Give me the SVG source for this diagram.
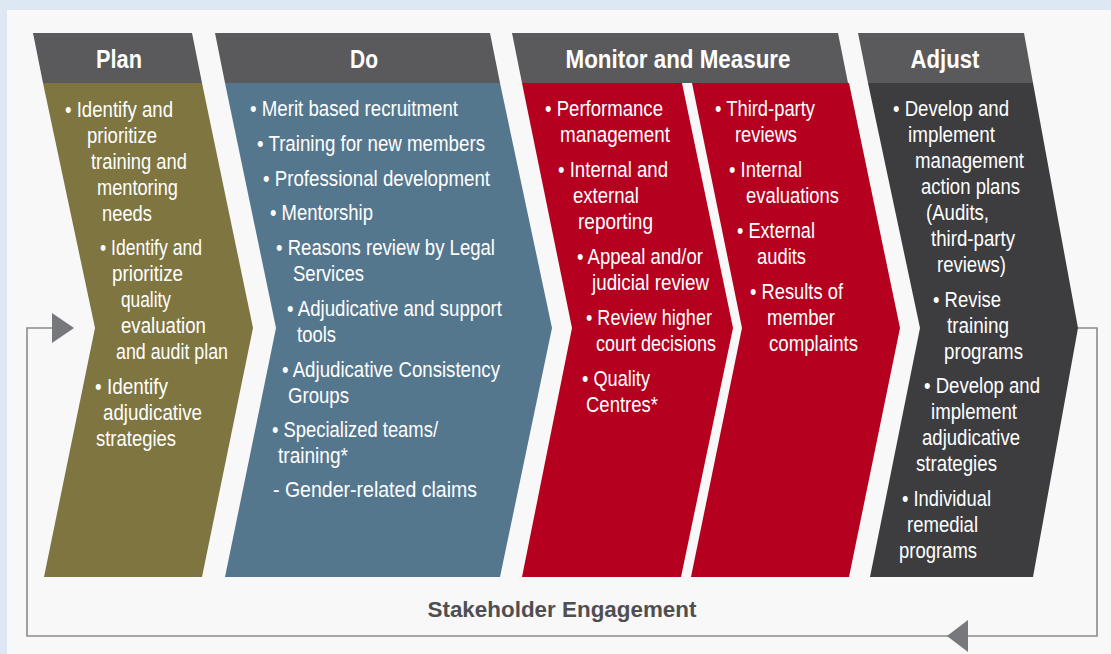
<svg xmlns="http://www.w3.org/2000/svg" width="1111" height="654" viewBox="0 0 1111 654">
<style>
.hdr{fill:#5a5a5c}
.t{font-family:"Liberation Sans",Arial,sans-serif;font-size:22px;fill:#ffffff}
.h{font-family:"Liberation Sans",Arial,sans-serif;font-size:25px;font-weight:bold;fill:#ffffff;text-anchor:middle}
.loop{fill:none;stroke:#8a8a8c;stroke-width:1.6}
.arr{fill:#77787b}
</style>
<rect x="0" y="0" width="1111" height="654" fill="#dde8f4"/>
<rect x="7" y="10" width="1104" height="644" fill="#f8f8f8"/>

<g id="connectors">
<path class="loop" d="M1078,328 H1097 V636 H27 V328 H55"/>
<polygon class="arr" points="52,313 74,328 52,343"/>
<polygon class="arr" points="968,620 947,636 968,652"/>
<text x="562" y="617" text-anchor="middle" font-family="Liberation Sans, Arial, sans-serif" font-size="22" font-weight="bold" fill="#4f4f51" textLength="269" lengthAdjust="spacingAndGlyphs">Stakeholder Engagement</text>
</g>

<g id="plan">
<polygon class="hdr" points="33,33 192,33 202,83 43,83"/>
<polygon fill="#7e7540" points="43,83 202,83 253,328 202,577 44,577 95,328"/>
<text class="h" x="119" y="68" textLength="46" lengthAdjust="spacingAndGlyphs">Plan</text>
<text class="t" x="65" y="117" textLength="108" lengthAdjust="spacingAndGlyphs">• Identify and</text>
<text class="t" x="87" y="143" textLength="70" lengthAdjust="spacingAndGlyphs">prioritize</text>
<text class="t" x="91" y="169" textLength="96" lengthAdjust="spacingAndGlyphs">training and</text>
<text class="t" x="97" y="195" textLength="81" lengthAdjust="spacingAndGlyphs">mentoring</text>
<text class="t" x="102" y="221" textLength="50" lengthAdjust="spacingAndGlyphs">needs</text>
<text class="t" x="100" y="255" textLength="102" lengthAdjust="spacingAndGlyphs">• Identify and</text>
<text class="t" x="112" y="281" textLength="71" lengthAdjust="spacingAndGlyphs">prioritize</text>
<text class="t" x="121" y="307" textLength="50" lengthAdjust="spacingAndGlyphs">quality</text>
<text class="t" x="121" y="333" textLength="85" lengthAdjust="spacingAndGlyphs">evaluation</text>
<text class="t" x="116" y="359" textLength="112" lengthAdjust="spacingAndGlyphs">and audit plan</text>
<text class="t" x="95" y="394" textLength="73" lengthAdjust="spacingAndGlyphs">• Identify</text>
<text class="t" x="103" y="420" textLength="99" lengthAdjust="spacingAndGlyphs">adjudicative</text>
<text class="t" x="96" y="446" textLength="80" lengthAdjust="spacingAndGlyphs">strategies</text>
</g>

<g id="do">
<polygon class="hdr" points="215,33 490,33 500,83 225,83"/>
<polygon fill="#55778e" points="225,83 500,83 552,328 500,577 225,577 276,328"/>
<text class="h" x="364" y="68" textLength="28" lengthAdjust="spacingAndGlyphs">Do</text>
<text class="t" x="250" y="116" textLength="208" lengthAdjust="spacingAndGlyphs">• Merit based recruitment</text>
<text class="t" x="257" y="151" textLength="228" lengthAdjust="spacingAndGlyphs">• Training for new members</text>
<text class="t" x="263" y="186" textLength="227" lengthAdjust="spacingAndGlyphs">• Professional development</text>
<text class="t" x="270" y="220" textLength="103" lengthAdjust="spacingAndGlyphs">• Mentorship</text>
<text class="t" x="276" y="255" textLength="219" lengthAdjust="spacingAndGlyphs">• Reasons review by Legal</text>
<text class="t" x="293" y="281" textLength="71" lengthAdjust="spacingAndGlyphs">Services</text>
<text class="t" x="287" y="316" textLength="215" lengthAdjust="spacingAndGlyphs">• Adjudicative and support</text>
<text class="t" x="297" y="342" textLength="39" lengthAdjust="spacingAndGlyphs">tools</text>
<text class="t" x="282" y="377" textLength="218" lengthAdjust="spacingAndGlyphs">• Adjudicative Consistency</text>
<text class="t" x="288" y="403" textLength="61" lengthAdjust="spacingAndGlyphs">Groups</text>
<text class="t" x="272" y="437" textLength="166" lengthAdjust="spacingAndGlyphs">• Specialized teams/</text>
<text class="t" x="278" y="463" textLength="70" lengthAdjust="spacingAndGlyphs">training*</text>
<text class="t" x="273" y="497" textLength="204" lengthAdjust="spacingAndGlyphs">- Gender-related claims</text>
</g>

<g id="monitor">
<polygon class="hdr" points="512,33 838,33 848,83 522,83"/>
<polygon fill="#b5001f" points="522,83 682,83 733,328 681,577 522,577 572,328"/>
<polygon fill="#b5001f" points="692,83 849,83 900,328 849,577 691,577 742,328"/>
<text class="h" x="678" y="68" textLength="225" lengthAdjust="spacingAndGlyphs">Monitor and Measure</text>
<text class="t" x="545" y="116" textLength="118" lengthAdjust="spacingAndGlyphs">• Performance</text>
<text class="t" x="560" y="142" textLength="110" lengthAdjust="spacingAndGlyphs">management</text>
<text class="t" x="558" y="177" textLength="110" lengthAdjust="spacingAndGlyphs">• Internal and</text>
<text class="t" x="573" y="203" textLength="66" lengthAdjust="spacingAndGlyphs">external</text>
<text class="t" x="578" y="229" textLength="75" lengthAdjust="spacingAndGlyphs">reporting</text>
<text class="t" x="577" y="264" textLength="126" lengthAdjust="spacingAndGlyphs">• Appeal and/or</text>
<text class="t" x="592" y="290" textLength="117" lengthAdjust="spacingAndGlyphs">judicial review</text>
<text class="t" x="586" y="325" textLength="126" lengthAdjust="spacingAndGlyphs">• Review higher</text>
<text class="t" x="596" y="351" textLength="120" lengthAdjust="spacingAndGlyphs">court decisions</text>
<text class="t" x="582" y="386" textLength="68" lengthAdjust="spacingAndGlyphs">• Quality</text>
<text class="t" x="586" y="412" textLength="72" lengthAdjust="spacingAndGlyphs">Centres*</text>
<text class="t" x="715" y="116" textLength="100" lengthAdjust="spacingAndGlyphs">• Third-party</text>
<text class="t" x="735" y="142" textLength="62" lengthAdjust="spacingAndGlyphs">reviews</text>
<text class="t" x="729" y="177" textLength="73" lengthAdjust="spacingAndGlyphs">• Internal</text>
<text class="t" x="746" y="203" textLength="93" lengthAdjust="spacingAndGlyphs">evaluations</text>
<text class="t" x="737" y="238" textLength="78" lengthAdjust="spacingAndGlyphs">• External</text>
<text class="t" x="757" y="264" textLength="49" lengthAdjust="spacingAndGlyphs">audits</text>
<text class="t" x="750" y="299" textLength="93" lengthAdjust="spacingAndGlyphs">• Results of</text>
<text class="t" x="767" y="325" textLength="68" lengthAdjust="spacingAndGlyphs">member</text>
<text class="t" x="769" y="351" textLength="89" lengthAdjust="spacingAndGlyphs">complaints</text>
</g>

<g id="adjust">
<polygon class="hdr" points="858,33 1024,33 1033,83 868,83"/>
<polygon fill="#3d3d3f" points="868,83 1033,83 1078,328 1033,577 870,577 920,328"/>
<text class="h" x="945" y="68" textLength="69" lengthAdjust="spacingAndGlyphs">Adjust</text>
<text class="t" x="893" y="116" textLength="116" lengthAdjust="spacingAndGlyphs">• Develop and</text>
<text class="t" x="908" y="142" textLength="87" lengthAdjust="spacingAndGlyphs">implement</text>
<text class="t" x="915" y="168" textLength="109" lengthAdjust="spacingAndGlyphs">management</text>
<text class="t" x="921" y="194" textLength="99" lengthAdjust="spacingAndGlyphs">action plans</text>
<text class="t" x="926" y="220" textLength="63" lengthAdjust="spacingAndGlyphs">(Audits,</text>
<text class="t" x="931" y="246" textLength="84" lengthAdjust="spacingAndGlyphs">third-party</text>
<text class="t" x="937" y="272" textLength="69" lengthAdjust="spacingAndGlyphs">reviews)</text>
<text class="t" x="933" y="307" textLength="68" lengthAdjust="spacingAndGlyphs">• Revise</text>
<text class="t" x="947" y="333" textLength="62" lengthAdjust="spacingAndGlyphs">training</text>
<text class="t" x="944" y="359" textLength="79" lengthAdjust="spacingAndGlyphs">programs</text>
<text class="t" x="924" y="393" textLength="116" lengthAdjust="spacingAndGlyphs">• Develop and</text>
<text class="t" x="931" y="419" textLength="86" lengthAdjust="spacingAndGlyphs">implement</text>
<text class="t" x="922" y="445" textLength="98" lengthAdjust="spacingAndGlyphs">adjudicative</text>
<text class="t" x="916" y="471" textLength="81" lengthAdjust="spacingAndGlyphs">strategies</text>
<text class="t" x="902" y="506" textLength="89" lengthAdjust="spacingAndGlyphs">• Individual</text>
<text class="t" x="907" y="532" textLength="71" lengthAdjust="spacingAndGlyphs">remedial</text>
<text class="t" x="899" y="558" textLength="78" lengthAdjust="spacingAndGlyphs">programs</text>
</g>
</svg>
